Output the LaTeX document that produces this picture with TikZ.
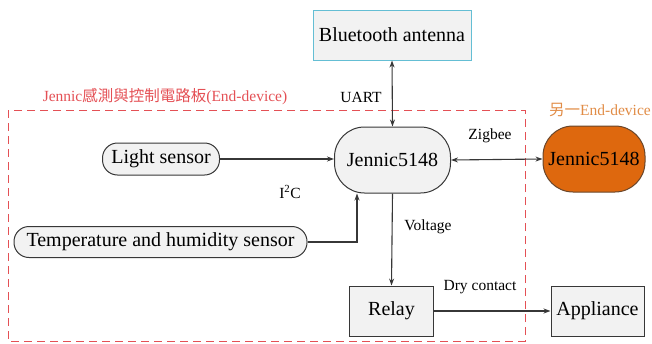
\documentclass[tikz,border=0pt]{standalone}
\usepackage{fontspec}
\setmainfont{Liberation Serif}
\newfontfamily\serif{Liberation Serif}
\newfontfamily\cjk{Noto Sans CJK TC}
\usetikzlibrary{arrows.meta}
\definecolor{boxgray}{RGB}{242,242,242}
\definecolor{linegray}{RGB}{55,55,55}
\definecolor{bordred}{RGB}{228,80,85}
\definecolor{antblue}{RGB}{100,190,212}
\definecolor{devorange}{RGB}{222,104,14}
\definecolor{labelorange}{RGB}{225,140,70}
\tikzset{
  block/.style={draw=linegray, fill=boxgray, line width=1pt, inner sep=2pt,
    font=\serif\fontsize{20}{24}\selectfont},
  pill/.style={block, rounded corners=#1},
  lbl/.style={font=\serif\fontsize{15.5}{18}\selectfont, inner sep=0pt},
  link/.style={draw=linegray, line width=1.1pt, -{Stealth[length=7pt,width=5pt]}},
  biglink/.style={link, {Stealth[length=7pt,width=5pt]}-{Stealth[length=7pt,width=5pt]}}
}
\begin{document}
\begin{tikzpicture}[x=1pt, y=-1pt]
\useasboundingbox (0,0) rectangle (652,343);

% end-device board
\draw[bordred, line width=0.9pt, dash pattern=on 8pt off 5pt] (8,110) rectangle (525,341);
\node[lbl, text=bordred] (boardlbl) at (165,97) {Jennic{\cjk 感測與控制電路板}(End-device)};
\node[lbl, text=labelorange] (otherlbl) at (600,110) {{\cjk 另一}End-device};

% blocks
\node[block, draw=antblue, minimum width=158pt, minimum height=50pt] (bt) at (392,35) {Bluetooth antenna};
\node[pill=30pt, minimum width=116pt, minimum height=66pt] (mcu) at (392.5,160) {Jennic5148};
\node[pill=30pt, fill=devorange, draw=linegray!70!devorange, minimum width=102pt, minimum height=66pt] (mcu2) at (594,159) {Jennic5148};
\node[pill=15pt, minimum width=117pt, minimum height=32pt] (light) at (161,159) {Light sensor};
\node[pill=15pt, minimum width=293pt, minimum height=31pt] (temp) at (160.5,242) {Temperature and humidity sensor};
\node[block, minimum width=84pt, minimum height=50pt] (relay) at (391.5,311) {Relay};
\node[block, minimum width=93pt, minimum height=50pt] (app) at (597.5,311) {Appliance};
\coordinate (bend) at (357,242);

% labels
\node[lbl] (uart) at (361,97) {UART};
\node[lbl] (zig) at (490,136) {Zigbee};
\node[lbl] (iic) at (290,192) {I\textsuperscript{2}C};
\node[lbl] (volt) at (428,227) {Voltage};
\node[lbl] (dry) at (480,287) {Dry contact};

% connections
\draw[biglink] (bt.south) -- (mcu.north);
\draw[biglink] (mcu.east) -- (mcu2.west);
\draw[link] (light.east) -- (mcu.west |- light.east);
\draw[link] (temp.east) -- (bend) -- (bend |- mcu.south);
\draw[link] (mcu.south) -- (relay.north);
\draw[link] (relay.east) -- (app.west);
\end{tikzpicture}
\end{document}
